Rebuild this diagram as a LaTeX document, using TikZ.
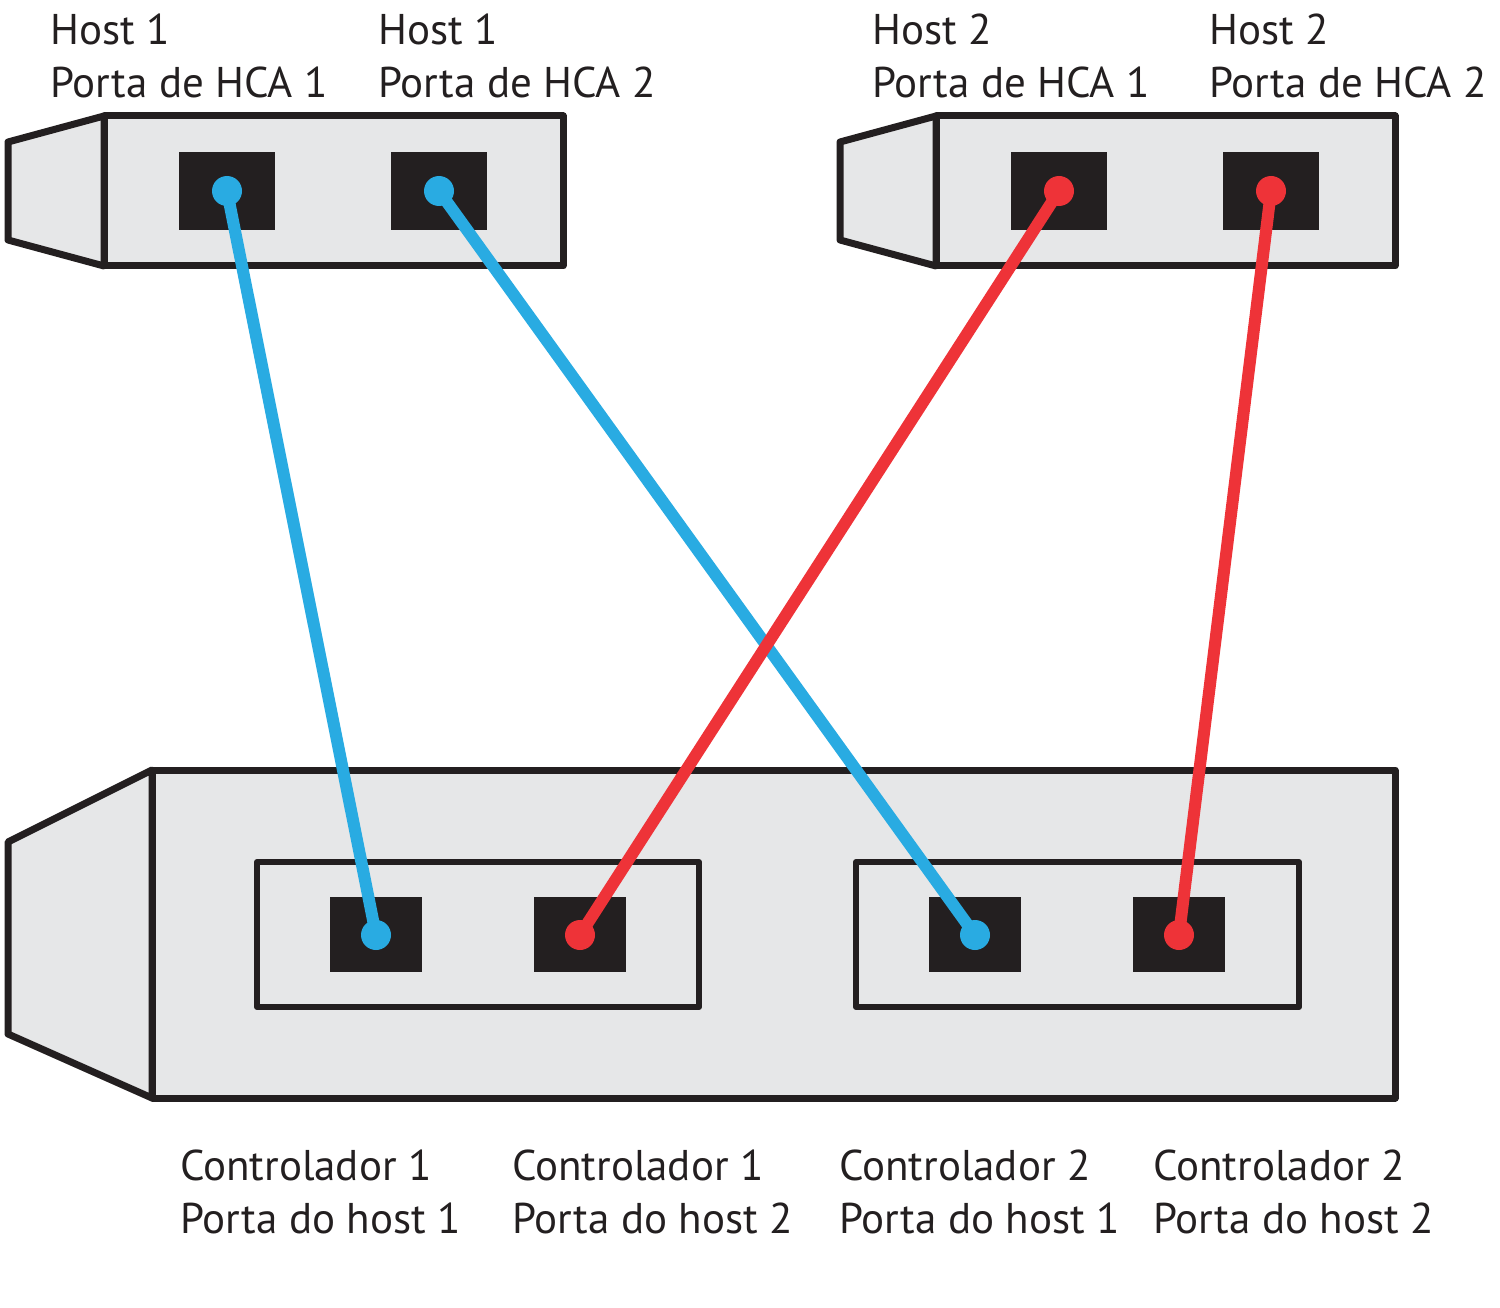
\documentclass[tikz,border=0pt]{standalone}
\usepackage{fontspec}
\setmainfont{PT Sans}
\definecolor{cardgray}{HTML}{E6E7E8}
\definecolor{portblack}{HTML}{231F20}
\definecolor{cblue}{HTML}{29ABE2}
\definecolor{cred}{HTML}{EE3338}
\tikzset{
  card/.style={draw=portblack, fill=cardgray, line width=7pt, line join=round},
  inner/.style={draw=portblack, fill=cardgray, line width=6pt, line join=round},
  port/.style={fill=portblack, draw=none},
  cable/.style={line width=12pt},
  dot/.style={circle, inner sep=0pt, minimum size=30pt, draw=none},
  lbl/.style={anchor=base west, inner sep=0pt, align=left, font=\fontsize{43}{53}\selectfont, text=portblack},
}
\begin{document}
\begin{tikzpicture}[x=1pt,y=-1pt]
\useasboundingbox (0,0) rectangle (1500,1308);
% Host 1
\draw[card] (8,142) -- (104,116) -- (104,266) -- (8,240) -- cycle;
\draw[card] (104,116) rectangle (563,266);
\fill[port] (179,152) rectangle (275,230);
\fill[port] (391,152) rectangle (487,230);
% Host 2
\draw[card] (840,142) -- (936,116) -- (936,266) -- (840,240) -- cycle;
\draw[card] (936,116) rectangle (1395,266);
\fill[port] (1011,152) rectangle (1107,230);
\fill[port] (1223,152) rectangle (1319,230);
% Controller enclosure
\draw[card] (8,842) -- (152,770) -- (152,1098) -- (8,1034) -- cycle;
\draw[card] (152,770) rectangle (1395,1098);
\draw[inner] (257,862) rectangle (699,1007);
\draw[inner] (856,862) rectangle (1299,1007);
\fill[port] (330,897) rectangle (422,972);
\fill[port] (534,897) rectangle (626,972);
\fill[port] (929,897) rectangle (1021,972);
\fill[port] (1133,897) rectangle (1225,972);
% port dots
\node[dot, fill=cblue] (h1p1) at (227,191) {};
\node[dot, fill=cblue] (h1p2) at (439,191) {};
\node[dot, fill=cred] (h2p1) at (1059,191) {};
\node[dot, fill=cred] (h2p2) at (1271,191) {};
\node[dot, fill=cblue] (c1p1) at (376,935) {};
\node[dot, fill=cred] (c1p2) at (580,935) {};
\node[dot, fill=cblue] (c2p1) at (975,935) {};
\node[dot, fill=cred] (c2p2) at (1179,935) {};
% cables
\draw[cable, cblue] (h1p1.center) -- (c1p1.center);
\draw[cable, cblue] (h1p2.center) -- (c2p1.center);
\draw[cable, cred] (h2p1.center) -- (c1p2.center);
\draw[cable, cred] (h2p2.center) -- (c2p2.center);
% labels (anchored at baseline of last line)
\node[lbl] (t1) at (50,98) {Host 1\\Porta de HCA 1};
\node[lbl] (t2) at (378,98) {Host 1\\Porta de HCA 2};
\node[lbl] (t3) at (872,98) {Host 2\\Porta de HCA 1};
\node[lbl] (t4) at (1209,98) {Host 2\\Porta de HCA 2};
\node[lbl] (b1) at (180,1233) {Controlador 1\\Porta do host 1};
\node[lbl] (b2) at (512,1233) {Controlador 1\\Porta do host 2};
\node[lbl] (b3) at (839,1233) {Controlador 2\\Porta do host 1};
\node[lbl] (b4) at (1153,1233) {Controlador 2\\Porta do host 2};
\end{tikzpicture}
\end{document}
